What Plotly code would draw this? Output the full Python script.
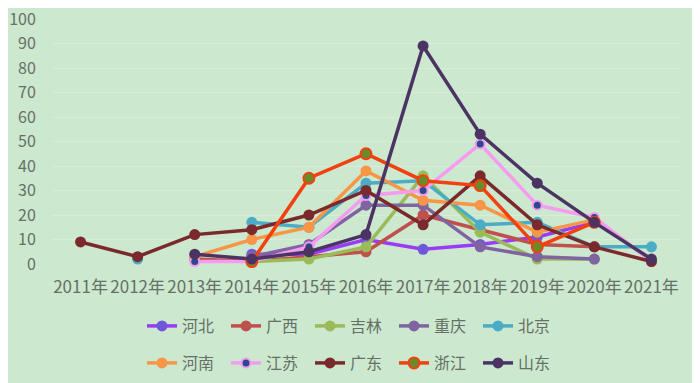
import plotly.graph_objects as go

years = ["2011年", "2012年", "2013年", "2014年", "2015年", "2016年",
         "2017年", "2018年", "2019年", "2020年", "2021年"]

hebei    = [None, None, None, 4, 4, 10, 6, 8, 11, 17, None]
guangxi  = [None, None, 2, 1, 3, 5, 20, 14, 8, 7, None]
jilin    = [None, None, None, 1, 2, 7, 36, 13, 2, 2, None]
chongqing= [None, None, None, 3, 8, 24, 24, 7, 3, 2, None]
beijing  = [None, 2, None, 17, 15, 33, 34, 16, 17, 7, 7]
henan    = [None, None, 3, 10, 15, 38, 26, 24, 13, 18, None]
jiangsu  = [None, None, 1, 1, 7, 28, 30, 49, 24, 19, 1]
guangdong= [9, 3, 12, 14, 20, 30, 16, 36, 16, 7, 1]
zhejiang = [None, None, None, 1, 35, 45, 34, 32, 7, 17, None]
shandong = [None, None, 4, 2, 5, 12, 89, 53, 33, 17, 2]

series = [
    ("河北", hebei, "#9A3CF5", "#7056DC", None, 11, "legend"),
    ("广西", guangxi, "#C0504D", "#C0504D", None, 11, "legend"),
    ("吉林", jilin, "#9BBB59", "#9BBB59", None, 11, "legend"),
    ("重庆", chongqing, "#8064A2", "#8064A2", None, 11, "legend"),
    ("北京", beijing, "#4BACC6", "#4BACC6", None, 11, "legend"),
    ("河南", henan, "#F79646", "#F79646", None, 11, "legend2"),
    ("江苏", jiangsu, "#F59CF0", "#2B4A8E", "#F59CF0", 9, "legend2"),
    ("广东", guangdong, "#7A2A2C", "#7A2A2C", None, 11, "legend2"),
    ("浙江", zhejiang, "#F2400E", "#6B8A2A", "#F2400E", 11, "legend2"),
    ("山东", shandong, "#4B3463", "#4B3463", None, 11, "legend2"),
]

fig = go.Figure()
for name, vals, lc, mc, mlc, ms, lg in series:
    marker = dict(color=mc, size=ms)
    if mlc:
        marker["line"] = dict(color=mlc, width=2)
    fig.add_trace(go.Scatter(
        x=years, y=vals, name=name, mode="lines+markers",
        line=dict(color=lc, width=3.5), marker=marker,
        cliponaxis=False, connectgaps=False, legend=lg,
    ))

font_family = "Noto Sans CJK SC"
text_color = "#667066"
bg = "#CCE8CF"
W, H = 700, 383

fig.update_layout(
    width=W, height=H,
    paper_bgcolor=bg, plot_bgcolor=bg,
    margin=dict(l=44, r=28, t=11, b=127, autoexpand=False),
    font=dict(family=font_family, size=16, color=text_color),
    xaxis=dict(
        type="category", range=[-0.5, 10.5], showgrid=False, showline=False,
        zeroline=False, ticks="outside", ticklen=8, tickcolor="rgba(0,0,0,0)",
        tickfont=dict(size=17, color=text_color), automargin=False,
    ),
    yaxis=dict(
        range=[0, 100], tickmode="linear", tick0=0, dtick=10,
        showgrid=True, gridcolor="#D6EED9",
        gridwidth=1, zeroline=False, showline=False, ticks="outside",
        ticklen=12, tickcolor="rgba(0,0,0,0)", ticklabeloverflow="allow",
        tickfont=dict(size=16, color=text_color), automargin=False,
    ),
    legend=dict(
        orientation="h", xref="container", yref="container",
        x=344 / W, xanchor="center", y=(H - 301) / H, yanchor="top",
        font=dict(size=16, color=text_color), entrywidth=39,
        bgcolor="rgba(0,0,0,0)",
    ),
    legend2=dict(
        orientation="h", xref="container", yref="container",
        x=344 / W, xanchor="center", y=(H - 338) / H, yanchor="top",
        font=dict(size=16, color=text_color), entrywidth=39,
        bgcolor="rgba(0,0,0,0)",
    ),
    showlegend=True,
)

fig.write_html("out.html")
